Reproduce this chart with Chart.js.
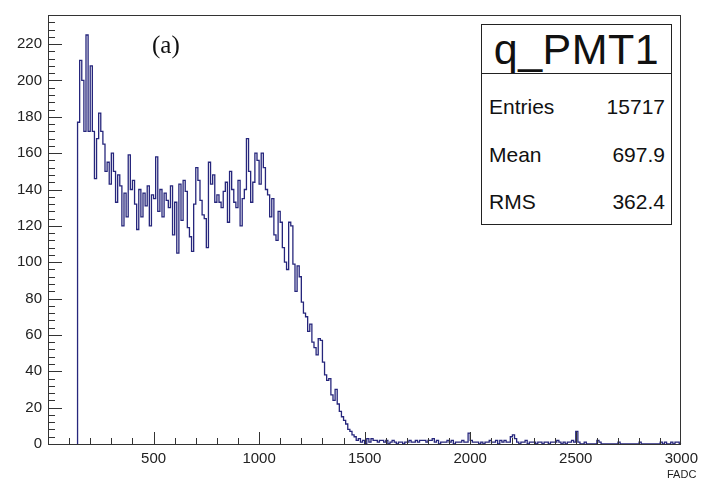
<!DOCTYPE html>
<html>
<head>
<meta charset="utf-8">
<script src="https://cdn.jsdelivr.net/npm/chart.js@4.4.1/dist/chart.umd.min.js"></script>
<style>
    html, body { margin: 0; padding: 0; background: #fff; }
    #wrap { position: relative; width: 704px; height: 483px; font-family: 'Liberation Sans', Arial, sans-serif; }
    #stats { position: absolute; left: 481px; top: 24px; width: 191px; height: 201px; border: 1px solid #222; box-sizing: border-box; background: #fff; color: #111; }
    #stats .title { height: 48px; border-bottom: 1px solid #222; font-size: 43px; text-align: center; line-height: 48px; letter-spacing: 0.5px; }
    #stats .row { position: absolute; left: 7px; right: 6px; font-size: 21px; line-height: 24px; }
    #stats .row span:last-child { position: absolute; right: 0; }
    #tag { position: absolute; left: 152px; top: 31px; font-family: 'Liberation Serif', serif; font-size: 25px; color: #111; }
    #xtitle { position: absolute; left: 667px; top: 468px; font-size: 11px; color: #222; }
</style>
</head>
<body>
<div id="wrap">
    <canvas id="hist" width="704" height="483"></canvas>
    <div id="tag">(a)</div>
    <div id="stats">
        <div class="title">q_PMT1</div>
        <div class="row" style="top:70px"><span>Entries</span><span>15717</span></div>
        <div class="row" style="top:118px"><span>Mean</span><span>697.9</span></div>
        <div class="row" style="top:165px"><span>RMS</span><span>362.4</span></div>
    </div>
    <div id="xtitle">FADC</div>
</div>
<script>
// histogram q_PMT1, 10 FADC bins starting at 140
const binLow = 140;
const binWidth = 10;
const counts = [
    177, 211, 200, 172, 225, 172, 208, 172, 146, 168,
    182, 172, 165, 150, 155, 143, 160, 150, 133, 148,
    142, 120, 138, 125, 159, 140, 145, 132, 118, 140,
    125, 138, 131, 142, 120, 137, 135, 158, 128, 140,
    125, 138, 134, 130, 142, 115, 133, 105, 143, 123,
    145, 139, 119, 114, 106, 132, 152, 145, 134, 126,
    124, 108, 155, 143, 148, 133, 137, 133, 130, 139,
    144, 122, 150, 140, 133, 130, 145, 120, 135, 140,
    168, 150, 133, 144, 160, 156, 143, 160, 152, 140,
    137, 125, 135, 115, 112, 128, 122, 108, 100, 96,
    122, 120, 99, 84, 98, 92, 78, 72, 70, 62,
    66, 56, 53, 49, 58, 57, 45, 38, 35, 36,
    27, 24, 30, 22, 18, 15, 13, 11, 8, 7,
    5, 4, 2, 3, 1, 2, 0,
    3, 1, 3, 2, 2, 1, 2, 2, 1, 2,
    0, 1, 2, 1, 0, 1, 1, 0, 1, 1,
    2, 1, 1, 2, 1, 2, 2, 2, 1, 2,
    2, 3, 1, 2, 0, 1, 1, 1, 2, 1,
    2, 0, 1, 1, 1, 2, 1, 1, 6, 2,
    1, 1, 1, 0, 1, 0, 1, 1, 2, 1,
    1, 2, 0, 2, 1, 2, 1, 1, 4, 5,
    3, 1, 0, 1, 1, 2, 0, 1, 1, 1,
    0, 1, 1, 0, 1, 1, 0, 1, 1, 1,
    2, 1, 0, 1, 0, 1, 1, 2, 1, 7,
    1, 0, 0, 1, 0, 0, 0, 0, 0, 2,
    1, 0, 0, 0, 0, 0, 0, 0, 0, 1,
    0, 0, 0, 0, 0, 0, 0, 0, 0, 1,
    0, 0, 0, 0, 0, 0, 0, 0, 0, 1,
    0, 1, 0, 0, 1, 0, 1, 1, 0,
];
const xTicks = [500, 1000, 1500, 2000, 2500, 3000];
const yTicks = [0, 20, 40, 60, 80, 100, 120, 140, 160, 180, 200, 220];
const xRange = [0, 3000];
const yRange = [0, 236];

const points = [{ x: binLow, y: 0 }];
counts.forEach((c, i) => points.push({ x: binLow + i * binWidth, y: c }));
points.push({ x: binLow + counts.length * binWidth, y: 0 });

// ROOT style: ticks inside the frame, plus the frame itself
const frameTicks = {
    id: 'frameTicks',
    afterDatasetsDraw(chart) {
        const { ctx, chartArea: a, scales } = chart;
        ctx.save();
        ctx.strokeStyle = '#333';
        ctx.lineWidth = 1;
        ctx.beginPath();
        for (let v = 100; v < xRange[1]; v += 100) {
            const px = Math.round(scales.x.getPixelForValue(v)) + 0.5;
            const len = v % 500 === 0 ? 12 : 6;
            ctx.moveTo(px, a.bottom);
            ctx.lineTo(px, a.bottom - len);
        }
        for (let v = 4; v < yRange[1]; v += 4) {
            const py = Math.round(scales.y.getPixelForValue(v)) + 0.5;
            const len = v % 20 === 0 ? 14 : 7;
            ctx.moveTo(a.left, py);
            ctx.lineTo(a.left + len, py);
        }
        ctx.stroke();
        ctx.strokeRect(Math.round(a.left) + 0.5, Math.round(a.top) + 0.5,
            Math.round(a.right - a.left) - 1, Math.round(a.bottom - a.top));
        ctx.restore();
    },
};

const tickFont = { family: 'Liberation Sans', size: 15 };

new Chart(document.getElementById('hist'), {
    type: 'line',
    data: {
        datasets: [{
            data: points,
            stepped: 'before',
            borderColor: '#26267c',
            borderWidth: 1.3,
            pointRadius: 0,
            fill: false,
        }],
    },
    options: {
        responsive: false,
        animation: false,
        devicePixelRatio: 1,
        layout: { padding: { top: 11, right: 15, left: 0, bottom: 0 } },
        plugins: { legend: { display: false }, tooltip: { enabled: false } },
        scales: {
            x: {
                type: 'linear',
                min: xRange[0],
                max: xRange[1],
                afterBuildTicks: (s) => { s.ticks = xTicks.map((v) => ({ value: v })); },
                afterFit: (s) => { s.height = 39; },
                grid: { display: false, drawTicks: false },
                border: { display: false },
                ticks: { color: '#222', font: tickFont, padding: 6, maxRotation: 0, autoSkip: false, callback: (v) => String(v) },
            },
            y: {
                type: 'linear',
                min: yRange[0],
                max: yRange[1],
                afterBuildTicks: (s) => { s.ticks = yTicks.map((v) => ({ value: v })); },
                afterFit: (s) => { s.width = 48; },
                grid: { display: false, drawTicks: false },
                border: { display: false },
                ticks: { color: '#222', font: tickFont, padding: 6, callback: (v) => String(v) },
            },
        },
    },
    plugins: [frameTicks],
});
</script>
</body>
</html>
